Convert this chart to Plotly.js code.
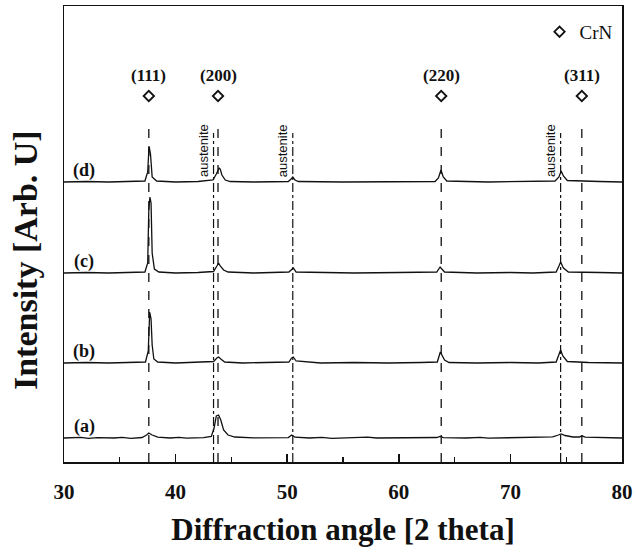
<!DOCTYPE html>
<html>
<head>
<meta charset="utf-8">
<script src="https://cdn.plot.ly/plotly-3.0.1.min.js"></script>
<style>html,body{margin:0;padding:0;background:#fff;}#chart{width:636px;height:554px;}</style>
</head>
<body>
<div id="chart"></div>
<script>
// ---- data (intensity in arbitrary units) ----
var sampleLabels = ["(a)", "(b)", "(c)", "(d)"];
var offsets = [24, 99, 189, 280];

var xA = [30, 31.5, 32.2, 33, 34.5, 35.2, 36, 37.0, 37.4, 37.6, 37.9, 38.4, 39.5, 40.3, 41, 42.5, 43.2, 43.45, 43.65, 43.85, 44.05, 44.3, 44.7, 45.3, 47, 48.5, 50.1, 50.4, 50.7, 52, 53.1, 54, 56, 57.2, 58, 60, 62, 63.4, 63.7, 64.0, 66, 67.3, 68, 70, 72, 73.8, 74.3, 74.55, 74.9, 75.6, 76.2, 76.4, 76.7, 78, 79.1, 80];
var yA = [0, 0.6, -0.4, 0.3, 0, 0.7, -0.3, 0.5, 3, 5, 3, 0.8, 0, 0.6, -0.2, 0.4, 1.5, 10, 22, 23, 18, 8, 3, 1, 0.2, 0.6, 0.4, 3, 0.8, 0, 0.7, -0.3, 0.3, 0.8, 0, 0.4, 0.2, 0.5, 1.5, 0.4, 0, 0.7, -0.2, 0.3, 0.5, 1.2, 3, 4, 2.5, 1, 1, 2.2, 0.8, 0.4, 0.8, 0];

var xB = [30, 32, 34, 36, 37.3, 37.55, 37.68, 37.8, 37.9, 38.05, 38.4, 40, 42, 43.4, 43.7, 43.85, 44.05, 44.4, 46, 48, 50.15, 50.4, 50.55, 50.8, 53, 56, 59, 62, 63.45, 63.72, 63.85, 64.1, 64.5, 67, 70, 72.5, 74.1, 74.35, 74.5, 74.7, 75.1, 77, 80];
var yB = [0, 0.5, 0, 0.5, 1, 12, 51, 44, 18, 4, 1, 0, 0.5, 1.5, 5, 6, 4, 1, 0, 0.5, 1, 5, 6, 2, 0, 0.5, 0, 0.5, 1, 11, 8, 3, 0.5, 0, 0.5, 0, 1, 8, 13, 7, 1.5, 0.5, 0];

var xC = [30, 32, 34, 36, 37.25, 37.5, 37.6, 37.7, 37.8, 37.9, 38.1, 38.5, 40, 42, 43.4, 43.7, 43.85, 44.0, 44.3, 44.7, 47, 50.15, 50.4, 50.55, 50.8, 53, 56, 60, 63.4, 63.7, 63.85, 64.1, 67, 70, 72, 74.1, 74.35, 74.5, 74.75, 75.2, 78, 80];
var yC = [0, 0.5, 0, 0.5, 1, 10, 64, 76, 70, 20, 4, 1, 0, 0.5, 1.5, 7, 10, 7, 3, 1, 0, 1, 4, 5, 1, 0.5, 0, 0.5, 1, 6, 4, 1, 0, 0.5, 0, 1, 7, 11, 5, 1, 0.5, 0];

var xD = [30, 32, 34, 36, 37.25, 37.5, 37.62, 37.75, 37.9, 38.3, 40, 42, 43.35, 43.65, 43.9, 44.0, 44.15, 44.45, 44.9, 47, 50.1, 50.35, 50.5, 50.7, 51.0, 55, 60, 63.25, 63.55, 63.78, 63.98, 64.3, 68, 72, 74.0, 74.35, 74.55, 74.75, 75.1, 78, 80];
var yD = [0, 0.5, 0, 0.5, 1, 10, 36, 28, 5, 1, 0, 0.5, 2, 8, 14, 13, 7, 2, 0.5, 0, 0.5, 3, 5, 2, 0.5, 0, 0.5, 0.5, 4, 12, 5, 1, 0, 0.5, 1, 5, 11, 6, 1.5, 0.5, 0];

var crnPos = [37.6, 43.8, 63.8, 76.4];
var crnHkl = ["(111)", "(200)", "(220)", "(311)"];
var austenitePos = [43.4, 50.5, 74.5];
var xTicks = [30, 40, 50, 60, 70, 80];

// ---- build traces ----
var xs = [xA, xB, xC, xD];
var ys = [yA, yB, yC, yD];
var traces = [];
for (var i = 0; i < 4; i++) {
  traces.push({
    x: xs[i],
    y: ys[i].map(function (v) { return v + offsets[i]; }),
    mode: "lines",
    line: {color: "#111", width: 1.3},
    showlegend: false,
    hoverinfo: "skip"
  });
}
var markerLevel = 366;
traces.push({
  x: crnPos,
  y: crnPos.map(function () { return markerLevel; }),
  mode: "markers",
  name: "CrN",
  marker: {symbol: "diamond-open", size: 8, color: "#111", line: {width: 1.8, color: "#111"}},
  showlegend: true
});

var shapes = [];
crnPos.forEach(function (p) {
  shapes.push({type: "line", xref: "x", yref: "y", x0: p, x1: p, y0: 0, y1: 342,
    line: {color: "#111", width: 1.3, dash: "dash"}});
});
austenitePos.forEach(function (p) {
  shapes.push({type: "line", xref: "x", yref: "y", x0: p, x1: p, y0: 0, y1: 329,
    line: {color: "#111", width: 1.2, dash: "dashdot"}});
});

var serif = "Liberation Serif, Times New Roman, serif";
var annotations = [];
crnPos.forEach(function (p, k) {
  annotations.push({x: p, y: 387, xref: "x", yref: "y", text: crnHkl[k], showarrow: false,
    font: {family: serif, size: 17, color: "#111", weight: "bold"}});
});
austenitePos.forEach(function (p) {
  annotations.push({x: p, y: 311, xref: "x", yref: "y", text: "austenite", textangle: -90,
    xanchor: "right", xshift: -1, showarrow: false,
    font: {family: "Liberation Sans Narrow, Liberation Sans, Arial, sans-serif", size: 13, color: "#111"}});
});
for (var j = 0; j < 4; j++) {
  annotations.push({x: 31.8, y: offsets[j] + 12, xref: "x", yref: "y", text: sampleLabels[j],
    showarrow: false, font: {family: serif, size: 18, color: "#111", weight: "bold"}});
}
// y-axis title (placed to match the reference, slightly below centre)
annotations.push({x: -0.068, y: 0.443, xref: "paper", yref: "paper", text: "Intensity [Arb. U]",
  textangle: -90, showarrow: false, xanchor: "center", yanchor: "middle",
  font: {family: serif, size: 34, color: "#111", weight: "bold"}});

var layout = {
  width: 636, height: 554,
  margin: {l: 64, r: 14, t: 6, b: 92},
  paper_bgcolor: "#fff", plot_bgcolor: "#fff",
  xaxis: {
    range: [30, 80], tickvals: xTicks, ticks: "inside", ticklen: 8, tickwidth: 1.5, tickcolor: "#111",
    minor: {dtick: 5, tick0: 30, ticks: "inside", ticklen: 5, tickwidth: 1.3, tickcolor: "#111"},
    showline: true, linecolor: "#111", linewidth: 1.5, mirror: true,
    showgrid: false, zeroline: false, ticklabelstandoff: 10,
    tickfont: {family: serif, size: 21, color: "#111", weight: "bold"},
    title: {text: "Diffraction angle [2 theta]", standoff: 15,
      font: {family: serif, size: 31, color: "#111", weight: "bold"}}
  },
  yaxis: {
    range: [0, 456], showticklabels: false, ticks: "", showgrid: false, zeroline: false,
    showline: true, linecolor: "#111", linewidth: 1.5, mirror: true
  },
  legend: {x: 0.992, y: 0.985, xanchor: "right", yanchor: "top", bgcolor: "rgba(0,0,0,0)",
    itemwidth: 30, font: {family: serif, size: 19, color: "#111"}},
  shapes: shapes,
  annotations: annotations
};

Plotly.newPlot("chart", traces, layout, {displayModeBar: false, staticPlot: true});
</script>
</body>
</html>
